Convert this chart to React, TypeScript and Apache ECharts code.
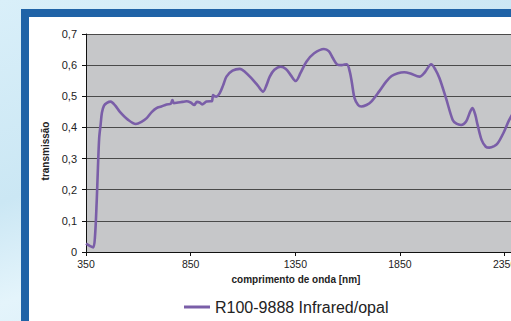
import React, { useEffect, useRef } from "react";
import * as echarts from "echarts";

const wavelengths = [
  350, 370, 385, 393, 401, 407, 413, 420, 426, 436, 450, 468, 490, 512, 550, 588, 615, 640, 665, 687, 710, 735, 755,
  763, 770, 790, 810, 830, 850, 867, 880, 893, 905, 926, 945, 952, 957, 965, 973, 989, 1005, 1021, 1050, 1085, 1110,
  1140, 1170, 1196, 1212, 1228, 1250, 1280, 1305, 1328, 1352, 1375, 1403, 1440, 1487, 1510, 1530, 1550, 1570, 1596,
  1610, 1620, 1633, 1650, 1665, 1690, 1713, 1750, 1784, 1810, 1840, 1870, 1900, 1943, 1970, 1999, 2020, 2039, 2070,
  2102, 2120, 2142, 2166, 2185, 2197, 2210, 2221, 2240, 2260, 2277, 2300, 2317, 2345, 2372, 2400, 2450,
];
const transmission = [
  0.027, 0.019, 0.015, 0.05, 0.16, 0.27, 0.366, 0.41, 0.447, 0.47, 0.479, 0.483, 0.47, 0.45, 0.425, 0.411, 0.418,
  0.43, 0.45, 0.462, 0.467, 0.474, 0.476, 0.488, 0.478, 0.48, 0.482, 0.484, 0.48, 0.472, 0.482, 0.48, 0.474, 0.483,
  0.484, 0.484, 0.504, 0.5, 0.499, 0.51, 0.535, 0.563, 0.582, 0.588, 0.578, 0.558, 0.535, 0.515, 0.535, 0.563, 0.585,
  0.595, 0.588, 0.568, 0.549, 0.575, 0.611, 0.638, 0.652, 0.645, 0.622, 0.602, 0.6, 0.603, 0.58, 0.545, 0.494, 0.472,
  0.467, 0.472, 0.483, 0.515, 0.547, 0.565, 0.574, 0.577, 0.573, 0.563, 0.578, 0.603, 0.585, 0.558, 0.494, 0.424,
  0.412, 0.408, 0.419, 0.45, 0.462, 0.44, 0.408, 0.36, 0.338, 0.335, 0.34, 0.349, 0.383, 0.424, 0.455, 0.48,
];
const seriesName = "R100-9888 Infrared/opal";
const xAxisTitle = "comprimento de onda [nm]";
const yAxisTitle = "transmissão";

export default function App() {
  const ref = useRef<HTMLDivElement>(null);
  useEffect(() => {
    if (!ref.current) return;
    const chart = echarts.init(ref.current, null, { renderer: "svg" });
    const font = "'Liberation Sans', Arial, sans-serif";
    chart.setOption({
      animation: false,
      grid: {
        left: 86,
        top: 34,
        width: 450,
        height: 218,
        show: true,
        backgroundColor: "#c6c7c9",
        borderWidth: 0,
      },
      xAxis: {
        type: "value",
        min: 350,
        max: 2500,
        interval: 500,
        axisLine: { show: true, lineStyle: { color: "#111", width: 1 } },
        axisTick: { show: true, length: 4, lineStyle: { color: "#111" } },
        splitLine: { show: false },
        axisLabel: {
          margin: 6,
          fontSize: 10.5,
          fontFamily: font,
          color: "#222",
          formatter: (v: number) => ((v - 350) % 500 === 0 ? String(v) : ""),
        },
      },
      yAxis: {
        type: "value",
        min: 0,
        max: 0.7,
        interval: 0.1,
        axisLine: { show: true, lineStyle: { color: "#111", width: 1 } },
        axisTick: { show: true, length: 4, lineStyle: { color: "#111" } },
        splitLine: { show: true, lineStyle: { color: "#4a4a4a", width: 1.2 } },
        axisLabel: {
          margin: 9,
          fontSize: 11,
          fontFamily: font,
          color: "#222",
          formatter: (v: number) => (v === 0 ? "0" : v.toFixed(1).replace(".", ",")),
        },
      },
      legend: {
        data: [{ name: seriesName, icon: "rect" }],
        left: 184,
        top: 299,
        padding: 0,
        itemWidth: 26,
        itemHeight: 3,
        textStyle: { fontSize: 16, fontFamily: font, color: "#222" },
      },
      graphic: [
        {
          type: "text",
          x: 296,
          y: 279,
          style: {
            text: xAxisTitle,
            font: "bold 10px 'Liberation Sans', Arial, sans-serif",
            fill: "#222",
            align: "center",
            verticalAlign: "middle",
          },
        },
        {
          type: "text",
          x: 45,
          y: 151,
          rotation: Math.PI / 2,
          style: {
            text: yAxisTitle,
            font: "bold 10px 'Liberation Sans', Arial, sans-serif",
            fill: "#222",
            align: "center",
            verticalAlign: "middle",
          },
        },
      ],
      series: [
        {
          name: seriesName,
          type: "line",
          data: wavelengths.map((w, i) => [w, transmission[i]]),
          smooth: 0.3,
          symbol: "none",
          lineStyle: { color: "#7a5ea8", width: 2.6 },
          itemStyle: { color: "#7a5ea8" },
        },
      ],
    });
    return () => chart.dispose();
  }, []);

  return (
    <div
      style={{
        position: "fixed",
        left: 0,
        top: 0,
        width: 511,
        height: 321,
        overflow: "hidden",
        background: "linear-gradient(160deg, #d9eff9 0%, #cbe7f4 40%, #e4f4fb 60%, #cde8f5 100%)",
      }}
    >
      <div
        style={{
          position: "absolute",
          left: 21,
          top: 9,
          width: 600,
          height: 400,
          boxSizing: "border-box",
          background: "#ffffff",
          borderTop: "8px solid #1f63a7",
          borderLeft: "8px solid #1f63a7",
        }}
      />
      <div ref={ref} style={{ position: "absolute", left: 0, top: 0, width: 560, height: 321 }} />
    </div>
  );
}
